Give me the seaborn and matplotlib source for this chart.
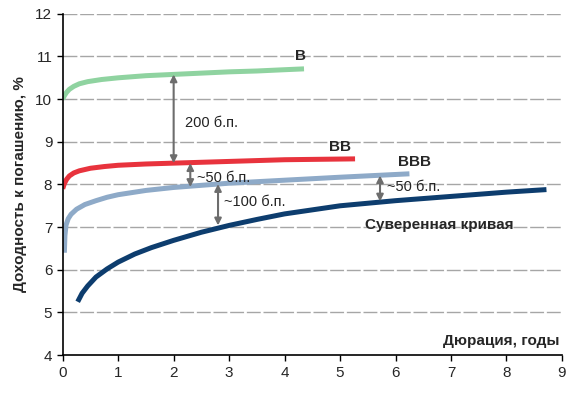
import matplotlib
matplotlib.use("Agg")
import matplotlib.pyplot as plt
import seaborn as sns
import pandas as pd

# yield curves (duration, years -> yield, %)
b_x = [0, 0.03, 0.07, 0.12, 0.2, 0.3, 0.45, 0.7, 1.0, 1.5, 2.0, 2.5, 3.0, 3.5, 4.0, 4.35]
b_y = [10.0, 10.08, 10.16, 10.23, 10.3, 10.36, 10.41, 10.46, 10.5, 10.55, 10.58, 10.61, 10.64, 10.66, 10.69, 10.71]

bb_x = [0, 0.03, 0.07, 0.12, 0.2, 0.3, 0.5, 0.75, 1.0, 1.5, 2.0, 3.0, 4.0, 5.27]
bb_y = [7.9, 8.02, 8.12, 8.2, 8.27, 8.32, 8.38, 8.42, 8.45, 8.48, 8.5, 8.54, 8.58, 8.6]

bbb_x = [0.03, 0.04, 0.06, 0.1, 0.15, 0.25, 0.4, 0.6, 0.8, 1.0, 1.5, 2.0, 3.0, 4.0, 5.0, 6.25]
bbb_y = [6.4, 6.8, 7.05, 7.2, 7.3, 7.42, 7.53, 7.62, 7.7, 7.76, 7.86, 7.93, 8.03, 8.1, 8.17, 8.25]

sov_x = [0.27, 0.35, 0.45, 0.6, 0.8, 1.0, 1.3, 1.6, 2.0, 2.5, 3.0, 3.5, 4.0, 5.0, 6.0, 7.0, 8.0, 8.72]
sov_y = [5.25, 5.45, 5.62, 5.83, 6.02, 6.18, 6.37, 6.52, 6.69, 6.88, 7.04, 7.18, 7.31, 7.5, 7.62, 7.72, 7.82, 7.88]

curve_names = ["B", "BB", "BBB", "Суверенная кривая"]
curve_colors = ["#8fd3a0", "#e8333d", "#8eaac8", "#0d3d6e"]

# spread arrows: x, from, to, label
spread_x = [2.0, 2.3, 2.8, 5.72]
spread_top = [10.58, 8.5, 8.01, 8.21]
spread_bottom = [8.5, 7.94, 7.04, 7.6]
spread_labels = ["200 б.п.", "~50 б.п.", "~100 б.п.", "~50 б.п."]

yticks = list(range(4, 13))
xticks = list(range(0, 10))

df = pd.concat([
    pd.DataFrame({"x": xs, "y": ys, "curve": name})
    for xs, ys, name in zip([b_x, bb_x, bbb_x, sov_x], [b_y, bb_y, bbb_y, sov_y], curve_names)
])

sns.set_style("white")
plt.rcParams["font.family"] = ["Liberation Sans", "DejaVu Sans"]

fig = plt.figure(figsize=(5.86, 3.95), dpi=100)
ax = fig.add_axes([0.107, 0.101, 0.852, 0.864])

# dashed grid
for yv in yticks[1:]:
    ax.axhline(yv, color="#a6a6a6", lw=1.0, ls=(0, (10, 2)), zorder=0)

sns.lineplot(data=df, x="x", y="y", hue="curve", palette=curve_colors,
             hue_order=curve_names, sort=False, estimator=None, lw=3.6,
             legend=False, ax=ax, solid_capstyle="butt")

for xv, y0, y1 in zip(spread_x, spread_top, spread_bottom):
    ax.annotate("", xy=(xv, y1), xytext=(xv, y0),
                arrowprops=dict(arrowstyle="<|-|>", color="#6d6d6d", lw=1.5,
                                mutation_scale=10, shrinkA=0, shrinkB=0))

label_pos = [(2.2, 9.45), (2.42, 8.15), (2.9, 7.6), (5.85, 7.95)]
for (lx, ly), txt in zip(label_pos, spread_labels):
    ax.text(lx, ly, txt, fontsize=10.5, va="center", ha="left", color="#222222")

ax.text(4.18, 11.0, "B", fontsize=11, fontweight="bold", va="center")
ax.text(4.8, 8.88, "BB", fontsize=11, fontweight="bold", va="center")
ax.text(6.05, 8.52, "BBB", fontsize=11, fontweight="bold", va="center")
ax.text(5.45, 7.05, "Суверенная кривая", fontsize=11, fontweight="bold", va="center")
ax.text(8.95, 4.33, "Дюрация, годы", fontsize=11, fontweight="bold", va="center", ha="right")

ax.set_xlim(0, 9)
ax.set_ylim(4, 12)
ax.set_xticks(xticks)
ax.set_yticks(yticks)
ax.set_xlabel("")
ax.set_ylabel("Доходность к погашению, %", fontsize=11, fontweight="bold", labelpad=6)
ax.tick_params(axis="both", direction="out", length=4, width=1, labelsize=11,
               left=True, bottom=True, color="black")
sns.despine(ax=ax)
for side in ["left", "bottom"]:
    ax.spines[side].set_color("black")
    ax.spines[side].set_linewidth(1.2)

fig.savefig("out.png", dpi=100)
